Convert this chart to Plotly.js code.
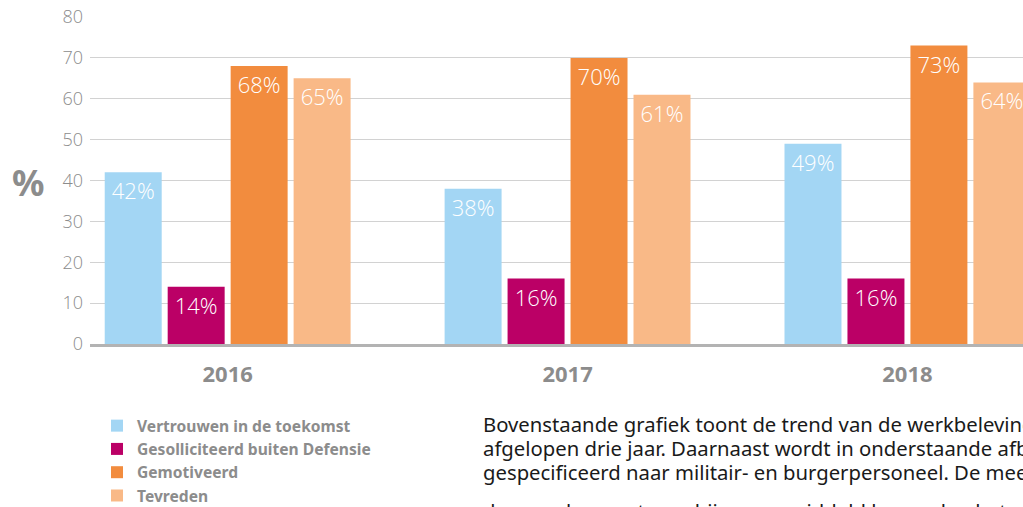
<!DOCTYPE html>
<html>
<head>
<meta charset="utf-8">
<script src="https://cdn.plot.ly/plotly-3.0.1.min.js"></script>
<style>
html,body{margin:0;padding:0;background:#fff;}
#chart{width:1023px;height:507px;}
</style>
</head>
<body>
<div id="chart"></div>
<script>
var years = ['2016', '2017', '2018'];
var seriesNames = ['Vertrouwen in de toekomst', 'Gesolliciteerd buiten Defensie', 'Gemotiveerd', 'Tevreden'];
var vertrouwen = [42, 38, 49];
var gesolliciteerd = [14, 16, 16];
var gemotiveerd = [68, 70, 73];
var tevreden = [65, 61, 64];
var colors = ['#a3d6f4', '#bb0066', '#f28c3e', '#f9b987'];
var yTicks = [0, 10, 20, 30, 40, 50, 60, 70, 80];
var bodyLines = [
  'Bovenstaande grafiek toont de trend van de werkbeleving over de',
  'afgelopen drie jaar. Daarnaast wordt in onderstaande afbeelding',
  'gespecificeerd naar militair- en burgerpersoneel. De meeste',
  'daarvan komen terug bij een gemiddeld hoger dan het militair'
];

var allValues = [vertrouwen, gesolliciteerd, gemotiveerd, tevreden];
var grey = '#8c8c8c';
var traces = allValues.map(function (vals, i) {
  return {
    type: 'bar',
    name: seriesNames[i],
    x: years,
    y: vals,
    marker: {color: colors[i]},
    text: vals.map(function (v) { return v + '%'; }),
    textposition: 'inside',
    insidetextanchor: 'end',
    textangle: 0,
    constraintext: 'none',
    textfont: {family: 'Open Sans, Noto Sans, sans-serif', size: 22, color: '#ffffff', weight: 300},
    cliponaxis: false,
    hoverinfo: 'none'
  };
});

var annotations = [{
  text: '<b>%</b>', xref: 'paper', yref: 'y',
  x: -0.066, y: 39.5, xanchor: 'center', yanchor: 'middle', showarrow: false,
  font: {family: 'Noto Sans, sans-serif', size: 36, color: grey}
}];
var lineY = [424, 448, 472, 511];
bodyLines.forEach(function (t, i) {
  annotations.push({
    text: t, xref: 'paper', yref: 'paper',
    x: (481 - 90) / 933, y: (344 - lineY[i]) / 327,
    xanchor: 'left', yanchor: 'middle', showarrow: false,
    font: {family: 'Noto Sans, sans-serif', size: 20.3, color: '#1a1a1a'}
  });
});

var layout = {
  width: 1023, height: 507,
  margin: {l: 90, r: 0, t: 17, b: 163, pad: 0, autoexpand: false},
  paper_bgcolor: '#ffffff', plot_bgcolor: '#ffffff',
  barmode: 'group',
  bargap: 0.259,
  bargroupgap: 0.095,
  font: {family: 'Noto Sans, sans-serif', color: grey},
  xaxis: {
    type: 'category',
    range: [-0.405, 2.34],
    automargin: false,
    showgrid: false,
    showline: true, linecolor: '#b3b3b3', linewidth: 3,
    ticks: '', ticklabelstandoff: 9,
    tickfont: {family: 'Noto Sans, sans-serif', size: 22, color: grey, weight: 'bold'},
    fixedrange: true
  },
  yaxis: {
    range: [0, 80],
    automargin: false,
    tickvals: yTicks,
    showgrid: true, gridcolor: '#d2d2d2', gridwidth: 1,
    zeroline: false,
    showline: false,
    ticks: '',
    ticklabelstandoff: 6,
    tickfont: {family: 'Open Sans, Noto Sans, sans-serif', size: 18, color: grey, weight: 300},
    fixedrange: true
  },
  showlegend: true,
  legend: {
    orientation: 'v',
    x: (97 - 90) / 933, y: (344 - 409) / 327,
    xanchor: 'left', yanchor: 'top',
    font: {family: 'Noto Sans, sans-serif', size: 15.6, color: grey, weight: 'bold'},
    itemwidth: 30,
    bgcolor: 'rgba(0,0,0,0)'
  },
  annotations: annotations
};

Plotly.newPlot('chart', traces, layout, {displayModeBar: false, staticPlot: true});
</script>
</body>
</html>
